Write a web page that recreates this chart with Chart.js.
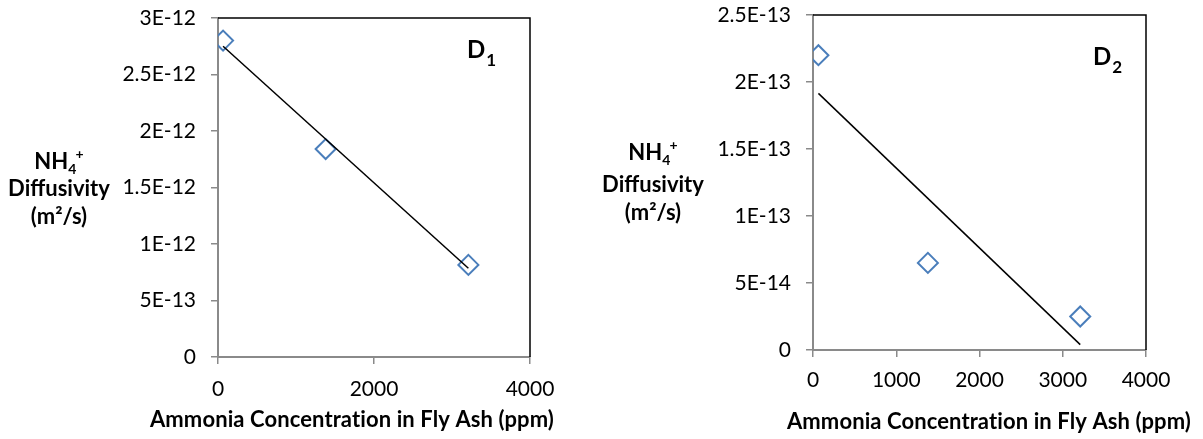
<!DOCTYPE html>
<html>
<head>
<meta charset="utf-8">
<script src="https://cdn.jsdelivr.net/npm/chart.js@4.4.0/dist/chart.umd.min.js"></script>
<style>
  html, body { margin: 0; padding: 0; background: #fff; }
  #wrap { position: relative; width: 1203px; height: 439px; }
  canvas { position: absolute; top: 0; }
</style>
</head>
<body>
<div id="wrap">
  <canvas id="chartD1" width="600" height="439" style="left:0"></canvas>
  <canvas id="chartD2" width="603" height="439" style="left:600px"></canvas>
</div>
<script>
// Datos
const concentration = [65, 1380, 3210];            // ppm
const diffusivityD1 = [2.8e-12, 1.84e-12, 0.815e-12];
const diffusivityD2 = [2.2e-13, 0.65e-13, 0.25e-13];

// Líneas de tendencia (extremos)
const trendX = [65, 3210];
const trendD1 = [2.75e-12, 0.785e-12];
const trendD2 = [1.915e-13, 0.04e-13];

// Marcas de los ejes
const xTicksD1 = [0, 2000, 4000];
const xTicksD2 = [0, 1000, 2000, 3000, 4000];
const yTicksD1 = [0, 5e-13, 1e-12, 1.5e-12, 2e-12, 2.5e-12, 3e-12];
const yLabelsD1 = ["0", "5E-13", "1E-12", "1.5E-12", "2E-12", "2.5E-12", "3E-12"];
const yTicksD2 = [0, 5e-14, 1e-13, 1.5e-13, 2e-13, 2.5e-13];
const yLabelsD2 = ["0", "5E-14", "1E-13", "1.5E-13", "2E-13", "2.5E-13"];

const xTitle = "Ammonia Concentration in Fly Ash (ppm)";
const FONT = "Lato";
const AXIS_GRAY = "#8a8a8a";
const MARKER_BLUE = "#4a7ebb";

// Plugin: bordes negros arriba/derecha, títulos y etiqueta D
const axisText = {
  id: "axisText",
  afterDraw(chart, args, o) {
    const ctx = chart.ctx;
    const a = chart.chartArea;
    ctx.save();
    ctx.strokeStyle = "#000";
    ctx.lineWidth = 1.5;
    ctx.beginPath();
    ctx.moveTo(a.left, a.top);
    ctx.lineTo(a.right, a.top);
    ctx.lineTo(a.right, a.bottom);
    ctx.stroke();

    ctx.fillStyle = "#000";
    ctx.textBaseline = "middle";

    // Título eje X (el espaciado evita la ligadura "ti")
    ctx.letterSpacing = "0.1px";
    ctx.font = "bold 22px " + FONT;
    ctx.textAlign = "center";
    ctx.fillText(xTitle, o.xTitleX, o.xTitleY);
    ctx.letterSpacing = "0px";

    // Título eje Y: NH4+ / Diffusivity / (m²/s)
    ctx.textAlign = "left";
    ctx.font = "bold 22px " + FONT;
    const wNH = ctx.measureText("NH").width;
    ctx.font = "bold 14px " + FONT;
    const w4 = ctx.measureText("4").width;
    const wPlus = ctx.measureText("+").width;
    let x0 = o.yTitleX - (wNH + w4 + wPlus * 0.9) / 2;
    ctx.font = "bold 22px " + FONT;
    ctx.fillText("NH", x0, o.yTitleY[0]);
    ctx.font = "bold 14px " + FONT;
    ctx.fillText("4", x0 + wNH, o.yTitleY[0] + 7);
    ctx.fillText("+", x0 + wNH + w4 * 0.9, o.yTitleY[0] - 8);
    ctx.textAlign = "center";
    ctx.font = "bold 22px " + FONT;
    ctx.fillText("Diffusivity", o.yTitleX, o.yTitleY[1]);
    ctx.fillText("(m²/s)", o.yTitleX, o.yTitleY[2]);

    // Etiqueta D con subíndice
    ctx.textAlign = "left";
    ctx.textBaseline = "alphabetic";
    ctx.font = "bold 24px " + FONT;
    const wD = ctx.measureText("D").width;
    ctx.fillText("D", o.dX, o.dY);
    ctx.font = "bold 17px " + FONT;
    ctx.fillText(o.dSub, o.dX + wD + 1, o.dY + 8);
    ctx.restore();
  }
};

function makeChart(id, yValues, trendY, xTicks, yTicks, yLabels, yMax, layout, text) {
  return new Chart(document.getElementById(id), {
    type: "scatter",
    data: {
      datasets: [
        {
          type: "line",
          data: trendX.map((x, i) => ({ x: x, y: trendY[i] })),
          borderColor: "#000",
          borderWidth: 1.5,
          pointRadius: 0,
          fill: false
        },
        {
          data: concentration.map((x, i) => ({ x: x, y: yValues[i] })),
          pointStyle: "rectRot",
          pointRadius: 10,
          pointBorderWidth: 2,
          borderColor: MARKER_BLUE,
          backgroundColor: "rgba(0,0,0,0)",
          showLine: false
        }
      ]
    },
    options: {
      responsive: false,
      animation: false,
      events: [],
      layout: { padding: { left: 0, right: layout.right, top: layout.top, bottom: 0 } },
      plugins: {
        legend: { display: false },
        tooltip: { enabled: false },
        axisText: text
      },
      scales: {
        x: {
          type: "linear",
          min: 0,
          max: 4000,
          afterBuildTicks: s => { s.ticks = xTicks.map(v => ({ value: v })); },
          afterFit: s => { s.height = layout.xHeight; s.paddingLeft = 0; s.paddingRight = 0; },
          grid: { display: true, drawOnChartArea: false, tickLength: 7, color: AXIS_GRAY, lineWidth: 1.5 },
          border: { color: AXIS_GRAY, width: 2 },
          ticks: {
            color: "#000",
            padding: layout.xPad,
            maxRotation: 0,
            font: { family: FONT, size: 21 },
            callback: v => String(v)
          }
        },
        y: {
          type: "linear",
          min: 0,
          max: yMax,
          afterBuildTicks: s => { s.ticks = yTicks.map(v => ({ value: v })); },
          afterFit: s => { s.width = layout.yWidth; s.paddingTop = 0; s.paddingBottom = 0; },
          grid: { display: true, drawOnChartArea: false, tickLength: 7, color: AXIS_GRAY, lineWidth: 1.5 },
          border: { color: AXIS_GRAY, width: 2 },
          ticks: {
            color: "#000",
            padding: 15,
            font: { family: FONT, size: 21 },
            callback: (v, i) => yLabels[i]
          }
        }
      }
    },
    plugins: [axisText]
  });
}

makeChart("chartD1", diffusivityD1, trendD1, xTicksD1, yTicksD1, yLabelsD1, 3e-12,
  { right: 70, top: 18, xHeight: 82, yWidth: 218, xPad: 13 },
  { xTitleX: 352, xTitleY: 420, yTitleX: 59, yTitleY: [162, 189, 217], dX: 467, dY: 58, dSub: "1" });

makeChart("chartD2", diffusivityD2, trendD2, xTicksD2, yTicksD2, yLabelsD2, 2.5e-13,
  { right: 57, top: 15, xHeight: 89, yWidth: 213, xPad: 11 },
  { xTitleX: 389, xTitleY: 422, yTitleX: 53, yTitleY: [153, 185, 213], dX: 493, dY: 65, dSub: "2" });
</script>
</body>
</html>
